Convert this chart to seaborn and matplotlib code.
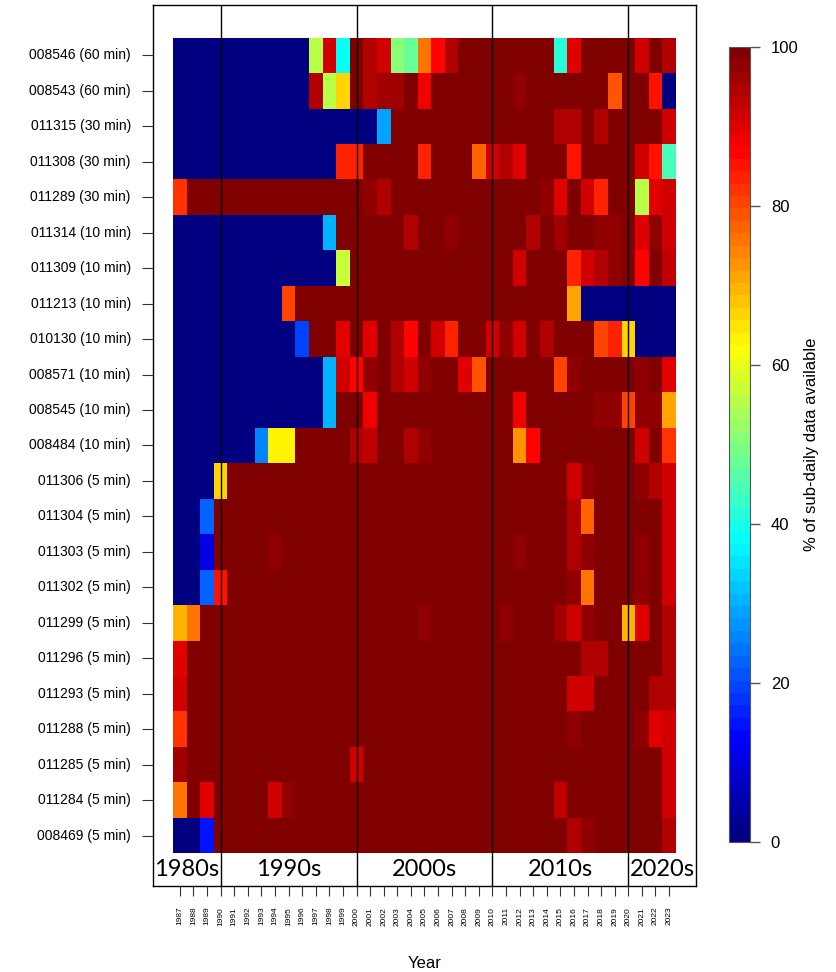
import numpy as np
import pandas as pd
import matplotlib
matplotlib.use("Agg")
import matplotlib.pyplot as plt
import seaborn as sns
from matplotlib.colors import LinearSegmentedColormap

# Station labels (top to bottom) and years
stations = [
    "008546 (60 min)", "008543 (60 min)", "011315 (30 min)", "011308 (30 min)",
    "011289 (30 min)", "011314 (10 min)", "011309 (10 min)", "011213 (10 min)",
    "010130 (10 min)", "008571 (10 min)", "008545 (10 min)", "008484 (10 min)",
    "011306 (5 min)", "011304 (5 min)", "011303 (5 min)", "011302 (5 min)",
    "011299 (5 min)", "011296 (5 min)", "011293 (5 min)", "011288 (5 min)",
    "011285 (5 min)", "011284 (5 min)", "008469 (5 min)",
]
years = list(range(1987, 2024))
decades = ["1980s", "1990s", "2000s", "2010s", "2020s"]

# % of sub-daily data available, one row per station, 1987..2023
avail = [
    [0, 0, 0, 0, 0, 0, 0, 0, 0, 0, 55, 92, 38, 99, 95, 92, 50, 47, 76, 86, 94, 100, 100, 100, 100, 100, 100, 100, 42, 90, 100, 100, 100, 100, 91, 100, 94],
    [0, 0, 0, 0, 0, 0, 0, 0, 0, 0, 95, 55, 67, 99, 94, 96, 96, 99, 88, 100, 100, 100, 100, 100, 100, 97, 100, 100, 100, 100, 100, 100, 79, 100, 100, 85, 0],
    [0, 0, 0, 0, 0, 0, 0, 0, 0, 0, 0, 0, 0, 0, 0, 29, 100, 100, 100, 100, 100, 100, 100, 100, 100, 100, 100, 100, 94, 94, 100, 94, 100, 100, 100, 100, 92],
    [0, 0, 0, 0, 0, 0, 0, 0, 0, 0, 0, 0, 84, 83, 100, 100, 100, 100, 84, 100, 100, 100, 78, 91, 95, 90, 100, 100, 100, 85, 100, 100, 100, 100, 92, 85, 45],
    [82, 100, 100, 99, 100, 100, 100, 100, 100, 100, 100, 100, 100, 99, 97, 95, 100, 100, 100, 100, 100, 100, 100, 100, 100, 100, 100, 97, 90, 99, 92, 84, 100, 100, 56, 90, 91],
    [0, 0, 0, 0, 0, 0, 0, 0, 0, 0, 0, 30, 100, 100, 100, 100, 100, 94, 100, 100, 98, 100, 100, 100, 100, 100, 95, 100, 96, 99, 99, 98, 98, 100, 90, 97, 92],
    [0, 0, 0, 0, 0, 0, 0, 0, 0, 0, 0, 0, 57, 100, 100, 100, 100, 100, 100, 100, 100, 100, 100, 100, 100, 92, 100, 100, 100, 84, 92, 94, 97, 99, 86, 100, 93],
    [0, 0, 0, 0, 0, 0, 0, 0, 80, 100, 100, 100, 100, 100, 100, 100, 100, 100, 100, 100, 100, 100, 100, 100, 100, 100, 100, 100, 100, 71, 0, 0, 0, 0, 0, 0, 0],
    [0, 0, 0, 0, 0, 0, 0, 0, 0, 19, 100, 100, 90, 99, 90, 100, 94, 86, 100, 91, 84, 100, 100, 92, 98, 91, 100, 95, 100, 100, 100, 81, 84, 66, 0, 0, 0],
    [0, 0, 0, 0, 0, 0, 0, 0, 0, 0, 0, 30, 91, 86, 97, 100, 94, 92, 97, 100, 100, 90, 79, 100, 100, 100, 100, 100, 81, 97, 100, 100, 100, 100, 97, 100, 90],
    [0, 0, 0, 0, 0, 0, 0, 0, 0, 0, 0, 30, 100, 100, 89, 100, 100, 100, 100, 100, 100, 100, 100, 100, 100, 89, 100, 100, 100, 100, 100, 98, 98, 81, 98, 97, 71],
    [0, 0, 0, 0, 0, 0, 25, 63, 63, 100, 99, 100, 100, 95, 93, 100, 100, 95, 97, 100, 100, 100, 100, 100, 100, 72, 86, 100, 100, 100, 100, 100, 100, 100, 92, 100, 82],
    [0, 0, 0, 67, 100, 100, 100, 99, 100, 100, 100, 100, 100, 100, 100, 100, 100, 100, 100, 100, 100, 100, 100, 100, 100, 100, 100, 100, 100, 91, 98, 100, 100, 100, 97, 95, 92],
    [0, 0, 23, 100, 100, 100, 100, 100, 100, 100, 100, 100, 100, 100, 100, 100, 100, 100, 100, 100, 100, 100, 100, 100, 100, 100, 100, 100, 100, 95, 77, 100, 100, 100, 100, 100, 92],
    [0, 0, 10, 99, 100, 100, 100, 98, 100, 100, 100, 100, 100, 100, 100, 100, 100, 100, 100, 100, 100, 100, 100, 100, 100, 97, 100, 100, 100, 95, 98, 100, 100, 100, 98, 100, 92],
    [0, 0, 23, 85, 100, 100, 100, 100, 100, 100, 100, 100, 100, 100, 100, 100, 100, 100, 100, 100, 100, 100, 100, 100, 100, 100, 100, 100, 100, 97, 76, 100, 100, 100, 98, 100, 92],
    [70, 75, 100, 100, 100, 100, 100, 100, 100, 100, 100, 100, 100, 100, 100, 100, 100, 100, 97, 100, 100, 100, 100, 99, 97, 100, 100, 100, 96, 91, 98, 100, 100, 69, 90, 100, 94],
    [90, 100, 100, 100, 100, 100, 100, 100, 100, 100, 100, 100, 100, 100, 100, 100, 100, 100, 100, 100, 100, 100, 100, 100, 100, 100, 100, 100, 100, 100, 94, 94, 100, 100, 100, 100, 94],
    [92, 100, 100, 100, 100, 100, 100, 100, 100, 100, 100, 100, 100, 100, 100, 100, 100, 100, 100, 100, 100, 100, 100, 100, 100, 100, 100, 100, 100, 92, 91, 100, 100, 99, 99, 94, 94],
    [82, 100, 100, 100, 100, 100, 100, 100, 100, 100, 100, 100, 100, 100, 100, 100, 100, 100, 100, 100, 100, 100, 100, 100, 100, 100, 100, 100, 100, 98, 100, 100, 100, 100, 98, 90, 92],
    [96, 100, 100, 100, 100, 100, 100, 100, 100, 100, 100, 100, 100, 91, 100, 100, 100, 100, 100, 100, 100, 100, 100, 100, 100, 100, 100, 100, 100, 100, 100, 100, 100, 100, 100, 100, 92],
    [75, 100, 90, 99, 100, 100, 100, 92, 97, 100, 100, 100, 100, 100, 100, 100, 100, 100, 100, 100, 100, 100, 100, 100, 100, 100, 100, 100, 93, 100, 100, 100, 100, 100, 100, 100, 92],
    [0, 0, 15, 100, 100, 100, 100, 100, 100, 100, 100, 100, 100, 100, 99, 100, 100, 100, 100, 100, 100, 100, 100, 100, 100, 100, 100, 100, 100, 94, 98, 100, 100, 100, 100, 100, 94],
]

df = pd.DataFrame(avail, index=stations, columns=years)

# matlab-style jet, 64 levels
jet64 = LinearSegmentedColormap.from_list(
    "jet64",
    [(0, (0, 0, 0.5)), (1 / 8, (0, 0, 1)), (3 / 8, (0, 1, 1)),
     (5 / 8, (1, 1, 0)), (7 / 8, (1, 0, 0)), (1, (0.5, 0, 0))],
    N=64,
)

plt.rcParams["font.family"] = ["Liberation Sans", "DejaVu Sans"]

fig = plt.figure(figsize=(8.36, 9.72), dpi=100)
ax = fig.add_axes([0.183, 0.0885, 0.6495, 0.9064])
cax = fig.add_axes([0.872, 0.1337, 0.0251, 0.818])

sns.heatmap(df, ax=ax, cbar_ax=cax, cmap=jet64, vmin=0, vmax=100,
            xticklabels=years, yticklabels=stations)

n_rows, n_cols = df.shape
pad_x = n_cols * 0.04
pad_y = n_rows * 0.04
ax.set_xlim(-pad_x, n_cols + pad_x)
ax.set_ylim(n_rows + pad_y, -pad_y)

for s in ax.spines.values():
    s.set_visible(True)
    s.set_color("black")
    s.set_linewidth(1)

# decade separators and labels
for i, y0 in enumerate([1990, 2000, 2010, 2020]):
    ax.axvline(years.index(y0) + 0.5, color="black", lw=1)
edges = [-pad_x] + [years.index(y0) + 0.5 for y0 in [1990, 2000, 2010, 2020]] + [n_cols + pad_x]
for i, lab in enumerate(decades):
    ax.text((edges[i] + edges[i + 1]) / 2, n_rows + pad_y / 2, lab,
            ha="center", va="center", fontsize=17, family=["Lato", "DejaVu Sans"])

ax.tick_params(axis="x", labelsize=6, rotation=90, length=7, pad=8, color="#333333")
ax.tick_params(axis="y", labelsize=10, rotation=0, length=8, pad=8, color="#333333")
ax.set_xlabel("Year", fontsize=12, labelpad=22)
ax.set_ylabel("")

cbar = ax.collections[0].colorbar
cbar.set_ticks([0, 20, 40, 60, 80, 100])
cbar.ax.tick_params(labelsize=12, length=7, width=1, color="#555555", pad=8)
cbar.outline.set_edgecolor("#555555")
cbar.outline.set_linewidth(0.8)
cbar.set_label("% of sub-daily data available", fontsize=12, labelpad=4)

fig.savefig("out.png", dpi=100)
